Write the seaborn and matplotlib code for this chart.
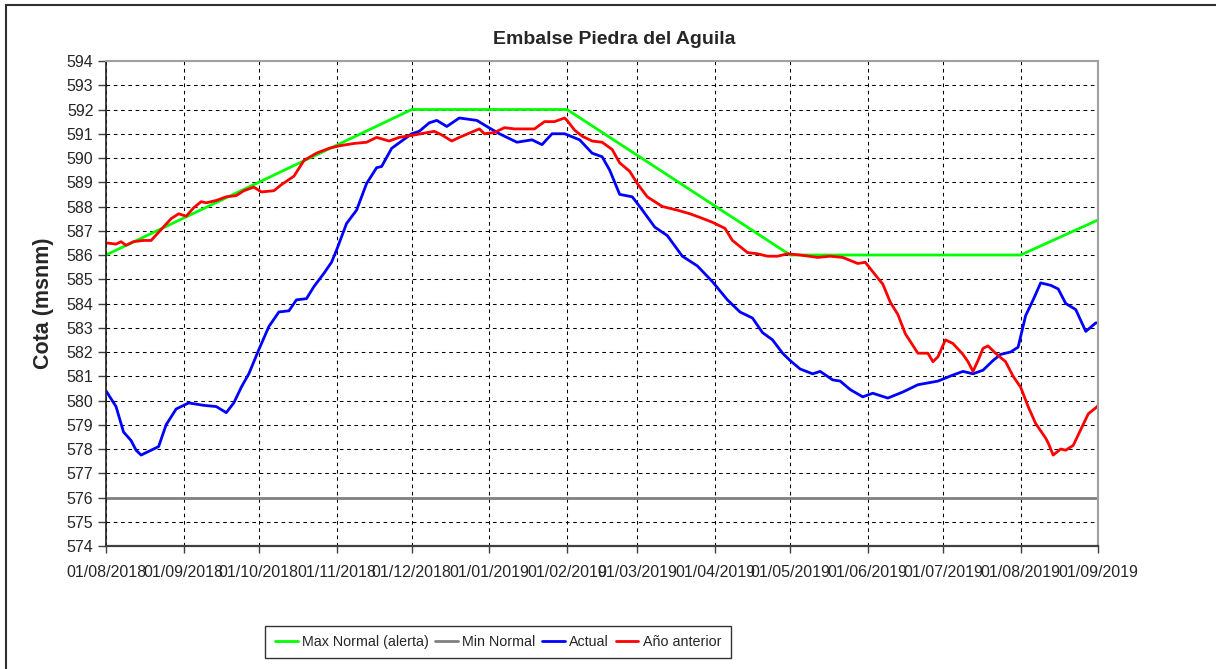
import pandas as pd
import numpy as np
import matplotlib.pyplot as plt
import matplotlib.dates as mdates
from matplotlib import font_manager
from matplotlib.patches import Rectangle
import seaborn as sns

# Data (days counted from 01/08/2018)
start_date = pd.Timestamp('2018-08-01')

max_days = [0, 122, 184, 273, 365, 396]
max_vals = [586, 592, 592, 586, 586, 587.45]

min_days = [0, 396]
min_vals = [576, 576]

actual_days = [0, 4, 7, 10, 12, 14, 18, 21, 24, 28, 33, 39, 44, 48, 51, 54, 57, 61, 65, 69,
               73, 76, 80, 83, 87, 90, 92, 96, 100, 104, 108, 110, 114, 118, 122, 125, 129,
               132, 136, 141, 148, 152, 157, 164, 170, 174, 178, 183, 189, 194, 198, 201,
               205, 210, 213, 219, 224, 230, 236, 242, 248, 253, 258, 262, 266, 270, 273,
               277, 282, 285, 290, 293, 297, 302, 306, 312, 318, 324, 332, 338, 342, 346,
               350, 354, 357, 361, 364, 367, 370, 373, 377, 380, 383, 387, 391, 395, 396]
actual_vals = [580.4, 579.75, 578.7, 578.35, 577.95, 577.75, 577.95, 578.1, 579.0, 579.65,
               579.9, 579.8, 579.75, 579.5, 579.9, 580.55, 581.1, 582.1, 583.05, 583.65,
               583.7, 584.15, 584.2, 584.7, 585.25, 585.7, 586.2, 587.3, 587.85, 588.95,
               589.6, 589.65, 590.4, 590.7, 591.0, 591.1, 591.45, 591.55, 591.3, 591.65,
               591.55, 591.3, 591.0, 590.65, 590.75, 590.55, 591.0, 591.0, 590.75, 590.2,
               590.05, 589.5, 588.5, 588.4, 588.0, 587.15, 586.8, 585.95, 585.55, 584.9,
               584.15, 583.65, 583.4, 582.8, 582.5, 581.95, 581.65, 581.3, 581.1, 581.2,
               580.85, 580.8, 580.45, 580.15, 580.3, 580.1, 580.35, 580.65, 580.8, 581.05,
               581.2, 581.1, 581.25, 581.65, 581.9, 582.0, 582.2, 583.5, 584.15, 584.85,
               584.75, 584.6, 584.0, 583.75, 582.85, 583.2, 583.2]

prev_days = [0, 4, 6, 8, 11, 15, 18, 22, 26, 29, 32, 35, 38, 40, 44, 48, 52, 55, 59, 62, 67,
             70, 75, 79, 84, 89, 93, 99, 104, 108, 113, 117, 123, 131, 134, 138, 141, 149,
             151, 155, 159, 163, 168, 171, 175, 179, 183, 184, 187, 190, 194, 198, 202, 205,
             209, 212, 216, 222, 228, 233, 237, 242, 247, 250, 256, 260, 264, 268, 272, 277,
             284, 289, 294, 300, 303, 308, 310, 313, 316, 319, 324, 328, 330, 332, 335, 338,
             342, 344, 346, 348, 350, 352, 355, 359, 362, 365, 368, 371, 375, 376, 378, 381,
             383, 386, 389, 392, 395, 396]
prev_vals = [586.5, 586.45, 586.55, 586.4, 586.55, 586.6, 586.6, 587.05, 587.5, 587.7, 587.6,
             587.95, 588.2, 588.15, 588.25, 588.4, 588.45, 588.65, 588.8, 588.6, 588.65,
             588.9, 589.25, 589.9, 590.2, 590.4, 590.5, 590.6, 590.65, 590.85, 590.7, 590.85,
             590.95, 591.1, 590.95, 590.7, 590.85, 591.2, 591.0, 591.05, 591.25, 591.2, 591.2,
             591.2, 591.5, 591.5, 591.65, 591.55, 591.15, 590.9, 590.7, 590.65, 590.35, 589.8,
             589.45, 588.95, 588.4, 588.0, 587.85, 587.7, 587.55, 587.35, 587.1, 586.6, 586.1,
             586.05, 585.95, 585.95, 586.05, 586.0, 585.9, 585.95, 585.9, 585.65, 585.7,
             585.05, 584.8, 584.05, 583.55, 582.75, 581.95, 581.95, 581.6, 581.8, 582.5,
             582.35, 581.9, 581.6, 581.2, 581.65, 582.15, 582.25, 581.95, 581.6, 581.0,
             580.55, 579.75, 579.05, 578.45, 578.25, 577.75, 578.0, 577.95, 578.15, 578.8,
             579.45, 579.7, 579.8]

series_names = ['Max Normal (alerta)', 'Min Normal', 'Actual', 'Año anterior']
series_colors = ['#00ff00', '#808080', '#0000ff', '#ff0000']

# Build long-form table for seaborn
frames = []
for name, days, vals in zip(series_names,
                            [max_days, min_days, actual_days, prev_days],
                            [max_vals, min_vals, actual_vals, prev_vals]):
    frames.append(pd.DataFrame({
        'Fecha': start_date + pd.to_timedelta(days, unit='D'),
        'Cota': vals,
        'Serie': name,
    }))
df = pd.concat(frames, ignore_index=True)

sns.set_theme(style='white')
plt.rcParams['font.family'] = ['Liberation Sans', 'DejaVu Sans']

# Legend text in the reference is a narrow face; use it if installed
installed = {f.name for f in font_manager.fontManager.ttflist}
if 'Liberation Sans Narrow' in installed:
    legend_font = {'family': 'Liberation Sans Narrow', 'size': 11.5}
else:
    legend_font = {'family': 'Liberation Sans', 'size': 10.3}

fig = plt.figure(figsize=(12.16, 6.69), dpi=100)
ax = fig.add_axes([106 / 1216, 1 - 546 / 669, (1098.3 - 106) / 1216, (546 - 61) / 669])

sns.lineplot(data=df, x='Fecha', y='Cota', hue='Serie', hue_order=series_names,
             palette=dict(zip(series_names, series_colors)), estimator=None,
             linewidth=2.0, ax=ax, legend=True)

# Axes limits and ticks
ax.set_xlim(start_date, pd.Timestamp('2019-09-01'))
ax.set_ylim(574, 594)
ax.set_yticks(np.arange(574, 595, 1))
ax.xaxis.set_major_locator(mdates.MonthLocator(bymonthday=1))
ax.xaxis.set_major_formatter(mdates.DateFormatter('%d/%m/%Y'))
ax.tick_params(axis='x', direction='out', length=5, width=1, color='#404040',
               labelsize=11.5, pad=9, bottom=True)
ax.tick_params(axis='y', direction='out', length=6, width=1, color='#404040',
               labelsize=11.5, pad=3, left=True)

ax.grid(True, color='black', linestyle=(0, (3.5, 3.5)), linewidth=0.75)
ax.set_axisbelow(True)

for side in ['top', 'right']:
    ax.spines[side].set_color('#a0a0a0')
    ax.spines[side].set_linewidth(1.5)
ax.spines['left'].set_color('#202020')
ax.spines['left'].set_linewidth(1.2)
ax.spines['bottom'].set_color('#404040')
ax.spines['bottom'].set_linewidth(1.6)

ax.set_xlabel('')
ax.set_ylabel('Cota (msnm)', fontsize=15.5, fontweight='bold', labelpad=9)
fig.text(614 / 1216, 1 - 39 / 669, 'Embalse Piedra del Aguila', ha='center', va='center',
         fontsize=14, fontweight='bold')

# Legend at the bottom
handles, labels = ax.get_legend_handles_labels()
ax.legend_.remove()
leg = fig.legend(handles, labels, loc='center', ncol=4,
                 bbox_to_anchor=(498 / 1216, 1 - 642 / 669), bbox_transform=fig.transFigure,
                 prop=legend_font, frameon=True, fancybox=False, edgecolor='black',
                 handlelength=1.6, handletextpad=0.3, columnspacing=0.45, borderpad=0.65)
leg.get_frame().set_linewidth(1.0)
for line in leg.get_lines():
    line.set_linewidth(2.0)

# Outer chart border (only top and left edges visible)
fig.patches.append(Rectangle((6 / 1216, -0.1), 1.2, 1.1 - 5 / 669, transform=fig.transFigure,
                             fill=False, edgecolor='#303030', linewidth=1.5))

fig.savefig('out.png', dpi=100)
